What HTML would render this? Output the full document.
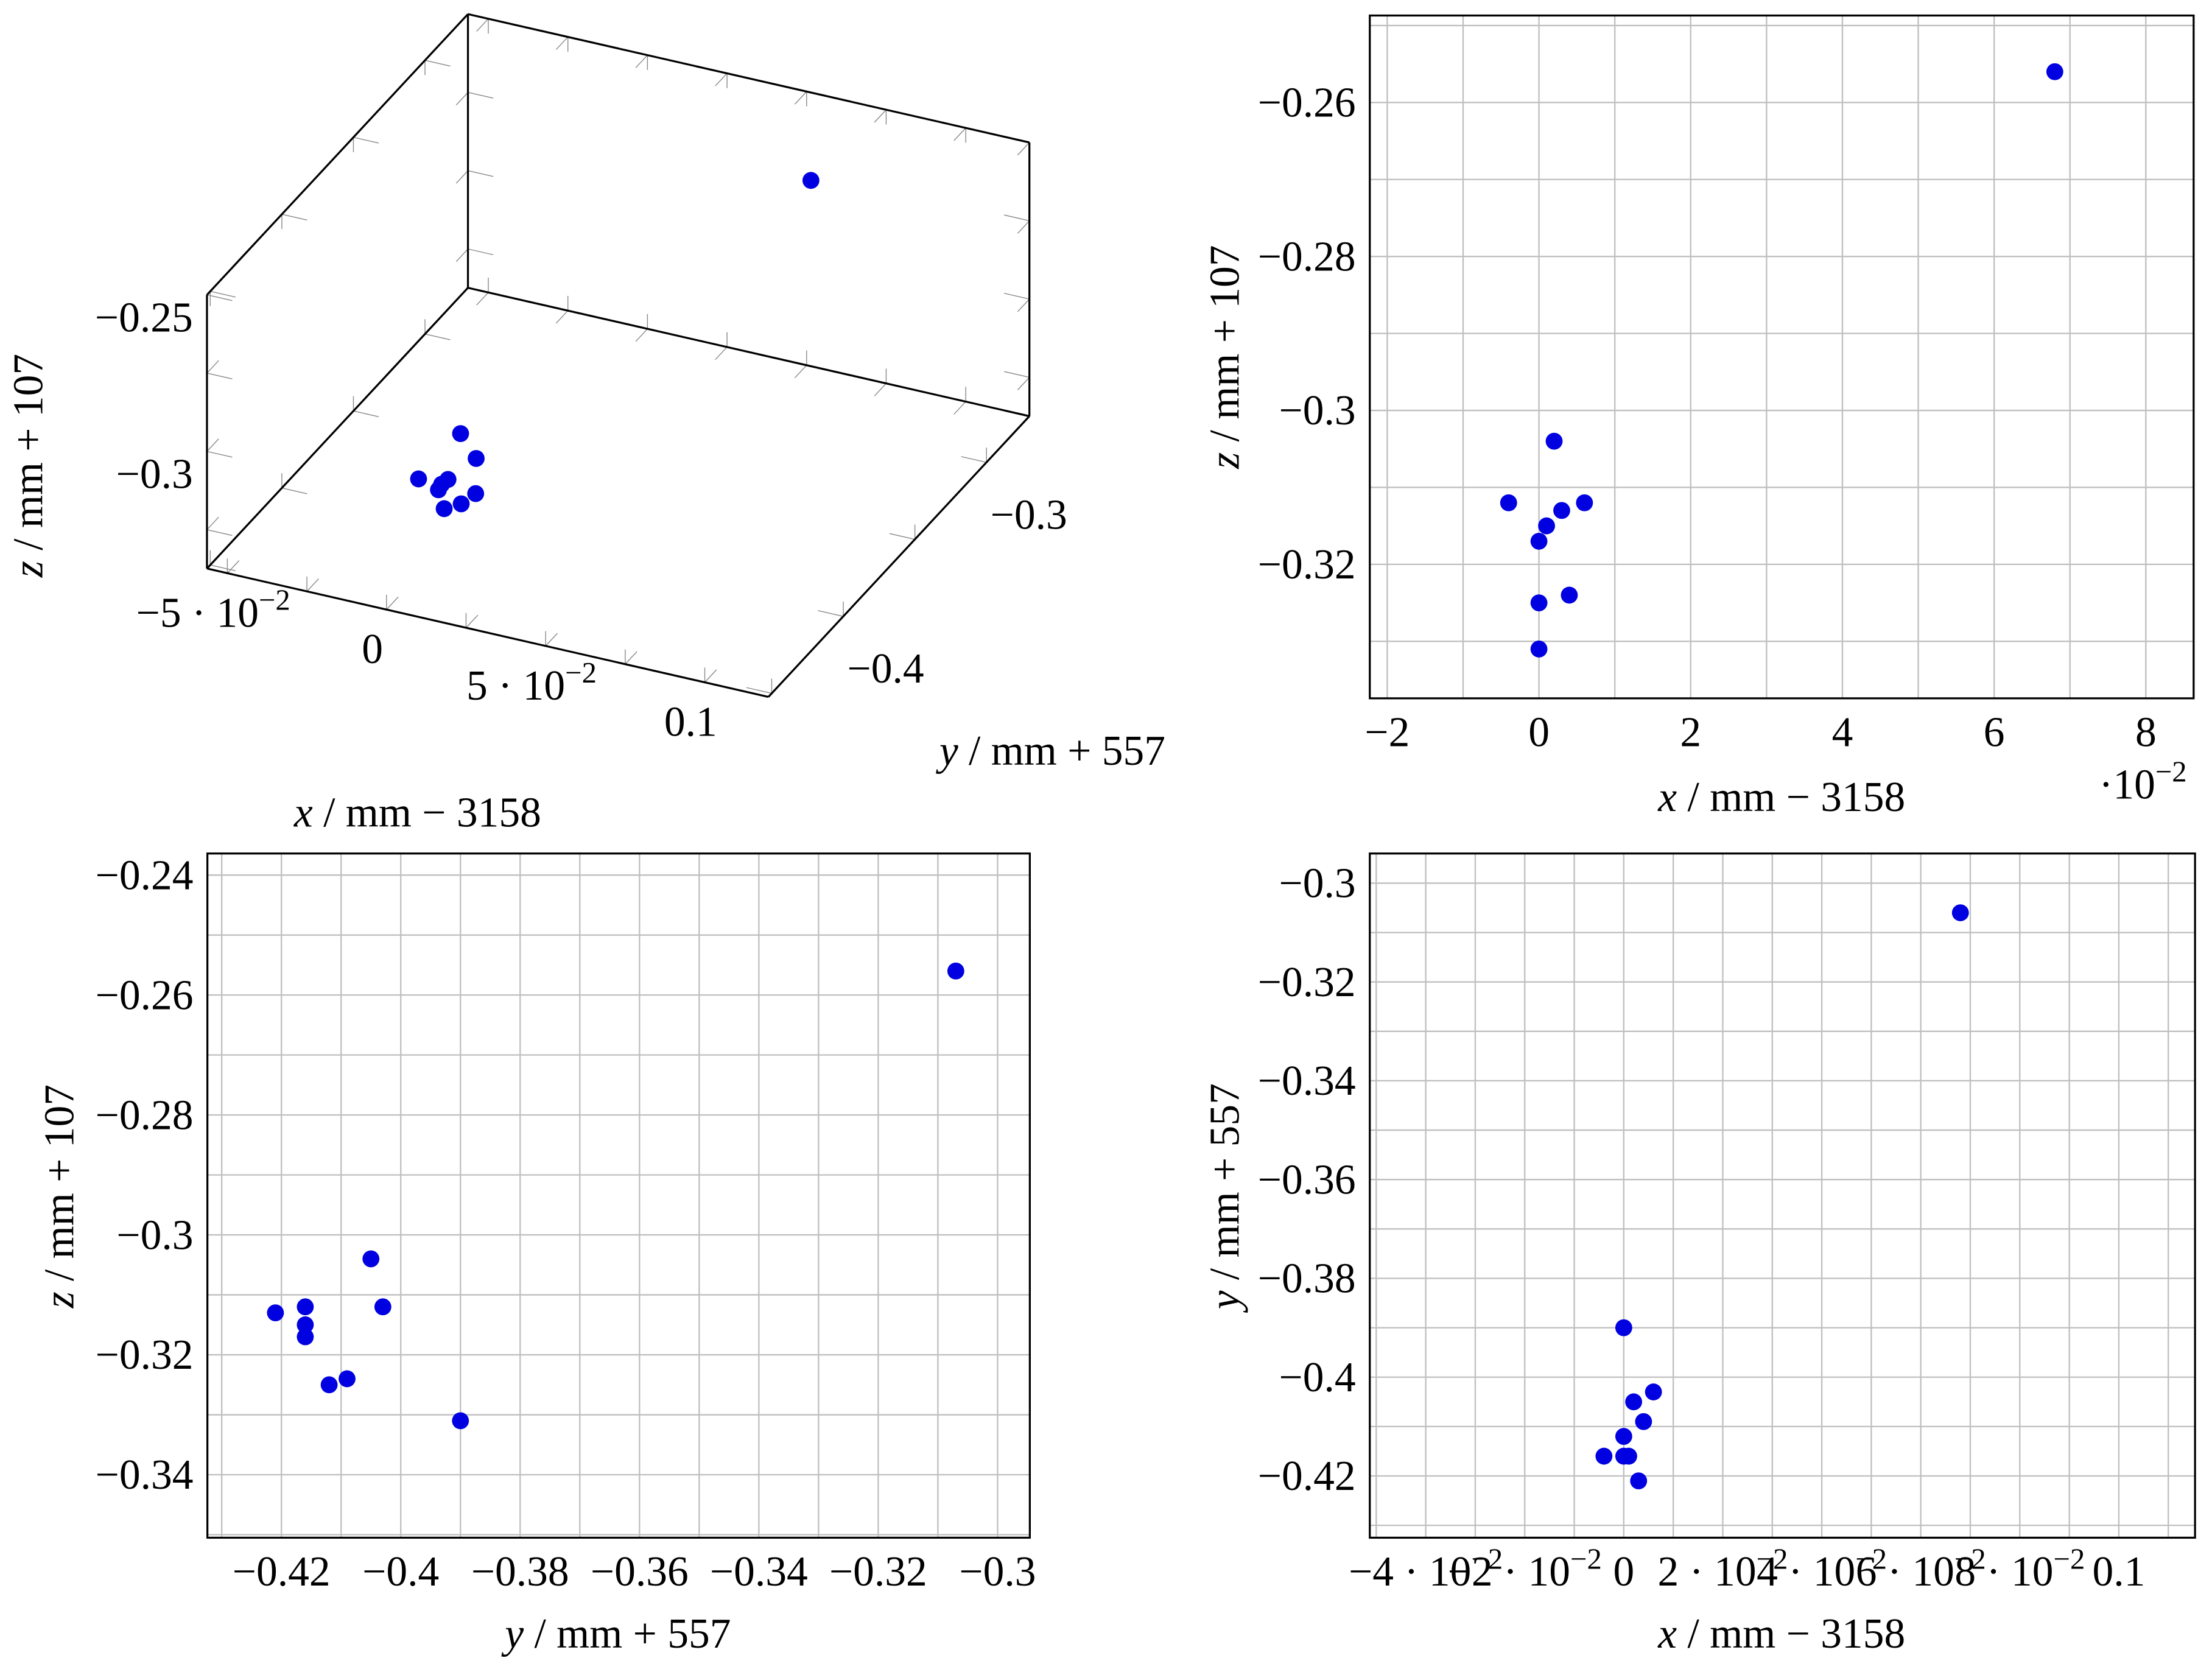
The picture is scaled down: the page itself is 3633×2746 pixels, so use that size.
<!DOCTYPE html>
<html><head><meta charset="utf-8"><style>
html,body{margin:0;padding:0;background:#fff;}
svg{display:block;}
text{font-family:"Liberation Serif",serif;fill:#000;}
</style></head><body>
<svg id="fig" xmlns="http://www.w3.org/2000/svg" width="3633" height="2746" viewBox="0 0 1568 1185.2">
<rect x="0" y="0" width="1568" height="1185.2" fill="#fff"/>
<g id="p3d"></g>
<g id="pxz"></g>
<g id="pyz"></g>
<g id="pxy"></g>
</svg>
<script>
// ---- data ----
const ptsX = [0.068, 0.002, -0.004, 0.003, 0.006, 0.001, 0.000, 0.004, 0.000, 0.000];
const ptsY = [-0.307, -0.405, -0.421, -0.416, -0.403, -0.416, -0.416, -0.409, -0.412, -0.390];
const ptsZ = [-0.256, -0.304, -0.312, -0.313, -0.312, -0.315, -0.317, -0.324, -0.325, -0.331];
// 2D y-z plot uses its own read values
const yzY = [-0.307, -0.421, -0.416, -0.416, -0.416, -0.412, -0.409, -0.405, -0.403, -0.390];
const yzZ = [-0.256, -0.313, -0.312, -0.315, -0.317, -0.325, -0.324, -0.304, -0.312, -0.331];
// x-y plot
const xyX = [0.068, 0.000, 0.006, 0.002, 0.004, 0.000, -0.004, 0.000, 0.001, 0.003];
const xyY = [-0.306, -0.390, -0.403, -0.405, -0.409, -0.412, -0.416, -0.416, -0.416, -0.421];
// tick values
const xzXTicks = [-2, 0, 2, 4, 6, 8];
const xzZTicks = [-0.26, -0.28, -0.30, -0.32];
const yzYTicks = [-0.42, -0.40, -0.38, -0.36, -0.34, -0.32, -0.30];
const yzZTicks = [-0.24, -0.26, -0.28, -0.30, -0.32, -0.34];
const xyXTicks = [-0.04, -0.02, 0, 0.02, 0.04, 0.06, 0.08, 0.1];
const xyXLabels = [["−4 · 10","−2"],["−2 · 10","−2"],["0",""],["2 · 10","−2"],["4 · 10","−2"],["6 · 10","−2"],["8 · 10","−2"],["0.1",""]];
const xyYTicks = [-0.30, -0.32, -0.34, -0.36, -0.38, -0.40, -0.42];
const d3XTicks = [-0.05, 0, 0.05, 0.1];
const d3XLabels = [["−5 · 10","−2"],["0",""],["5 · 10","−2"],["0.1",""]];
const d3YTicks = [-0.4, -0.3];
const d3ZTicks = [-0.25, -0.3];

const NS = "http://www.w3.org/2000/svg";
const BLUE = "#0000e1", GRID = "#bfbfbf";
function mk(parent, tag, attrs){ const e=document.createElementNS(NS,tag); for(const k in attrs) e.setAttribute(k,attrs[k]); parent.appendChild(e); return e; }
function fmt(v){ let s = (Math.round(v*1000)/1000).toString(); if(s.startsWith("-")) s="−"+s.slice(1); return s; }
function labelText(parent, x, y, main, sup, anchor, size){
  const t = mk(parent,"text",{x:x,y:y,"text-anchor":anchor||"middle","font-size":size||30});
  t.appendChild(document.createTextNode(main));
  if(sup){ const ts = mk(t,"tspan",{dy:-12,"font-size":21}); ts.textContent = sup; }
  return t;
}
function axisTitle(parent, x, y, v, op, num, rot){
  const t = mk(parent,"text",{x:x,y:y,"text-anchor":"middle","font-size":30});
  if(rot) t.setAttribute("transform","rotate(-90 "+x+" "+y+")");
  const a = mk(t,"tspan",{"font-style":"italic"}); a.textContent = v;
  const b = mk(t,"tspan",{}); b.textContent = " / mm " + op + " " + num;
  return t;
}

function plot2d(g, box, xr, yr, xStep, yStep, xs, ys, xticks, yticks, xlabFn, ylabFn){
  const sx = v => box.x + (v - xr[0])/(xr[1]-xr[0])*box.w;
  const sy = v => box.y + box.h - (v - yr[0])/(yr[1]-yr[0])*box.h;
  const grid = mk(g,"g",{});
  
  
  for(let k=Math.ceil(xr[0]/xStep-1e-9); k*xStep<=xr[1]+1e-12; k++){
    const X = sx(k*xStep);
    mk(grid,"line",{x1:X,y1:box.y,x2:X,y2:box.y+box.h,stroke:GRID,"stroke-width":1});
  }
  for(let k=Math.ceil(yr[0]/yStep-1e-9); k*yStep<=yr[1]+1e-12; k++){
    const Y = sy(k*yStep);
    mk(grid,"line",{x1:box.x,y1:Y,x2:box.x+box.w,y2:Y,stroke:GRID,"stroke-width":1});
  }
  const frame = mk(g,"rect",{x:box.x,y:box.y,width:box.w,height:box.h,fill:"none",stroke:"#000","stroke-width":1.4});
  
  
  xticks.forEach((v,i)=>{
    const t = xlabFn(g, sx(v), box.y+box.h+34, v, i);
    
    
  });
  yticks.forEach((v,i)=>{
    const t = ylabFn(g, box.x-10, sy(v)+10, v, i);
    
    
  });
  xs.forEach((v,i)=>{
    const c = mk(g,"circle",{cx:sx(v),cy:sy(ys[i]),r:6,fill:BLUE});
    
    
  });
}

// ---- top-right: x vs z ----
(function(){
  const g = document.getElementById("pxz");
  const box = {x:971,y:11,w:584,h:484};
  plot2d(g, box, [-2.23,8.63], [-0.3374,-0.2487], 1, 0.01,
    ptsX.map(v=>v*100), ptsZ, xzXTicks, xzZTicks,
    (p,x,y,v)=>labelText(p,x,y,fmt(v),"","middle"),
    (p,x,y,v)=>labelText(p,x,y,fmt(v),"","end"));
  const m = labelText(g,1519,566,"·10","−2","middle");
  
  
  const xt = axisTitle(g,1263,575,"x","−","3158",false);
  
  
  const yt = axisTitle(g,878,253,"z","+","107",true);
  
  
})();

// ---- bottom-left: y vs z ----
(function(){
  const g = document.getElementById("pyz");
  const box = {x:147,y:605,w:583,h:485};
  plot2d(g, box, [-0.4324,-0.2946], [-0.3505,-0.2364], 0.01, 0.01,
    yzY, yzZ, yzYTicks, yzZTicks,
    (p,x,y,v)=>labelText(p,x,y,fmt(v),"","middle"),
    (p,x,y,v)=>labelText(p,x,y,fmt(v),"","end"));
  const xt = axisTitle(g,438,1168,"y","+","557",false);
  
  
  const yt = axisTitle(g,52,848,"z","+","107",true);
  
  
})();

// ---- bottom-right: x vs y ----
(function(){
  const g = document.getElementById("pxy");
  const box = {x:971,y:605,w:585,h:485};
  plot2d(g, box, [-0.0513,0.1154], [-0.4325,-0.294], 0.01, 0.01,
    xyX, xyY, xyXTicks, xyYTicks,
    (p,x,y,v,i)=>labelText(p,x,y,xyXLabels[i][0],xyXLabels[i][1],"middle"),
    (p,x,y,v)=>labelText(p,x,y,fmt(v),"","end"));
  const xt = axisTitle(g,1263,1168,"x","−","3158",false);
  
  
  const yt = axisTitle(g,878,848,"y","+","557",true);
  
  
})();

// ---- top-left: 3D ----
(function(){
  const g = document.getElementById("p3d");
  const xa=-0.0564, xb=0.12, ya=-0.4523, yb=-0.270, za=-0.3374, zb=-0.25;
  const O=[146.7,403], EX=[398,91], EY=[185,-199], EZ=[0,-194];
  function P(x,y,z){
    const u=(x-xa)/(xb-xa), v=(y-ya)/(yb-ya), w=(z-za)/(zb-za);
    return [O[0]+u*EX[0]+v*EY[0]+w*EZ[0], O[1]+u*EX[1]+v*EY[1]+w*EZ[1]];
  }
  function line(p,q,st,sw,name){
    const l = mk(g,"line",{x1:p[0],y1:p[1],x2:q[0],y2:q[1],stroke:st,"stroke-width":sw});
    
    
    return l;
  }
  // ticks (gray)
  const tk = 0.045;
  for(let x=-0.05; x<=xb+1e-9; x+=0.025){
    [[ya,za],[yb,za],[yb,zb]].forEach(([y,z])=>{
      const p=P(x,y,z);
      const dy = y===ya?1:-1, dz = z===za?1:-1;
      line(p,P(x,y+dy*tk*(yb-ya),z),"#888",0.6,"x-tick");
      line(p,P(x,y,z+dz*tk*1.2*(zb-za)),"#888",0.6,"x-tick");
    });
  }
  for(let y=-0.45; y<=yb+1e-9; y+=0.05){
    [[xb,za],[xa,za],[xa,zb]].forEach(([x,z])=>{
      const p=P(x,y,z);
      const dx = x===xa?1:-1, dz = z===za?1:-1;
      line(p,P(x+dx*tk*(xb-xa),y,z),"#888",0.6,"y-tick");
      line(p,P(x,y,z+dz*tk*1.2*(zb-za)),"#888",0.6,"y-tick");
    });
  }
  for(let z=-0.325; z<=zb+1e-9; z+=0.025){
    [[xa,ya],[xa,yb],[xb,yb]].forEach(([x,y])=>{
      const p=P(x,y,z);
      const dx = x===xa?1:-1, dy = y===ya?1:-1;
      line(p,P(x+dx*tk*(xb-xa),y,z),"#888",0.6,"z-tick");
      line(p,P(x,y+dy*tk*(yb-ya),z),"#888",0.6,"z-tick");
    });
  }
  // box edges
  const E = [
    [[xa,ya,za],[xb,ya,za]], [[xb,ya,za],[xb,yb,za]], [[xa,ya,za],[xa,yb,za]], [[xa,yb,za],[xb,yb,za]],
    [[xa,ya,za],[xa,ya,zb]], [[xa,yb,za],[xa,yb,zb]], [[xb,yb,za],[xb,yb,zb]],
    [[xa,ya,zb],[xa,yb,zb]], [[xa,yb,zb],[xb,yb,zb]]
  ];
  E.forEach(e=>line(P(...e[0]),P(...e[1]),"#000",1.4,"box-edge"));
  // tick labels
  d3XTicks.forEach((v,i)=>{
    const p=P(v,ya,za);
    const t=labelText(g,p[0]-10,p[1]+38,d3XLabels[i][0],d3XLabels[i][1],"middle");
    
    
  });
  d3YTicks.forEach(v=>{
    const p=P(xb,v,za);
    const t=labelText(g,p[0]+30,p[1]+47,fmt(v),"","middle");
    
    
  });
  d3ZTicks.forEach(v=>{
    const p=P(xa,ya,v);
    const t=labelText(g,p[0]-10,p[1]+26,fmt(v),"","end");
    
    
  });
  const xt = axisTitle(g,296,586,"x","−","3158",false);
  
  
  const yt = axisTitle(g,746,542,"y","+","557",false);
  
  
  const zt = axisTitle(g,30,330,"z","+","107",true);
  
  
  ptsX.forEach((x,i)=>{
    const p=P(x,ptsY[i],ptsZ[i]);
    const c=mk(g,"circle",{cx:p[0],cy:p[1],r:6,fill:BLUE});
    
    
  });
})();
</script>
</body></html>
